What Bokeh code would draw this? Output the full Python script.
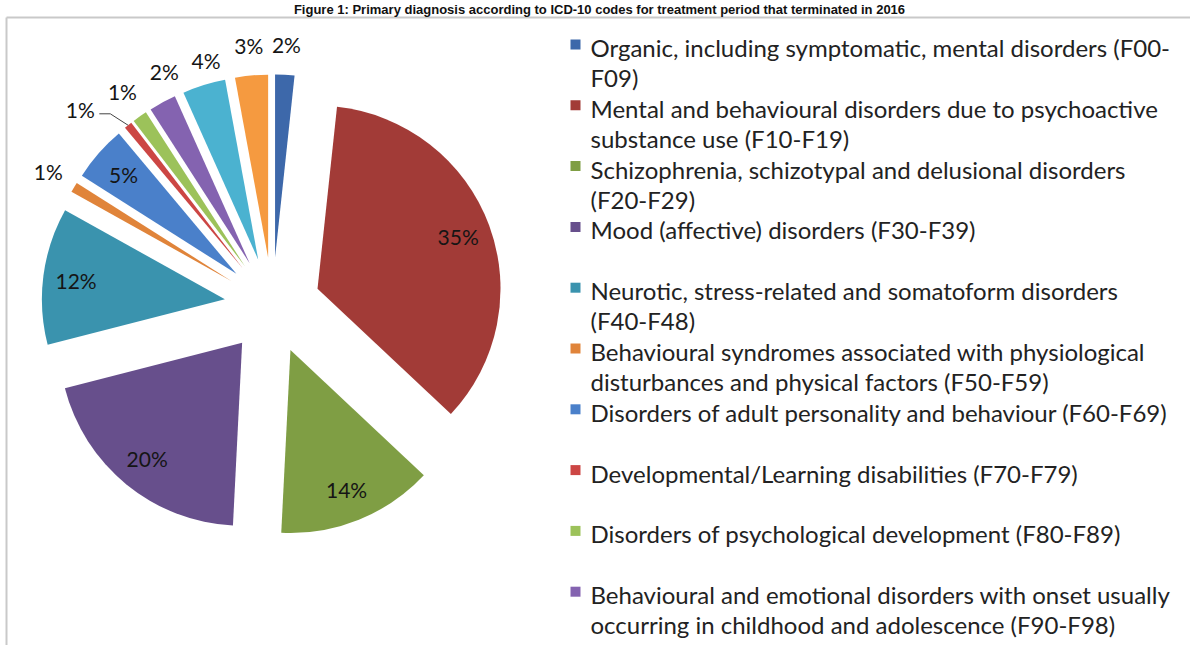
import math
from bokeh.plotting import figure
from bokeh.models import Range1d
from bokeh.core.properties import value
from bokeh.embed import file_html
from bokeh.resources import INLINE

# ---------------- data ----------------
title = ("Figure 1: Primary diagnosis according to ICD-10 codes for treatment "
         "period that terminated in 2016")

categories = [
    "Organic, including symptomatic, mental disorders (F00-\nF09)",
    "Mental and behavioural disorders due to psychoactive\nsubstance use (F10-F19)",
    "Schizophrenia, schizotypal and delusional disorders\n(F20-F29)",
    "Mood (affective) disorders (F30-F39)",
    "Neurotic, stress-related and somatoform disorders\n(F40-F48)",
    "Behavioural syndromes associated with physiological\ndisturbances and physical factors (F50-F59)",
    "Disorders of adult personality and behaviour (F60-F69)",
    "Developmental/Learning disabilities (F70-F79)",
    "Disorders of psychological development (F80-F89)",
    "Behavioural and emotional disorders with onset usually\noccurring in childhood and adolescence (F90-F98)",
    "Unspecified mental disorder (F99)",
    "Other",
]
shares = [1.7, 35.3, 13.8, 20.2, 12.1, 0.9, 4.9, 0.7, 1.3, 2.4, 3.8, 2.9]
legend_count = 10  # entries visible in the legend

colors = ["#3D68AA", "#A23B37", "#7F9E44", "#674F8C", "#3A93AE", "#E0843A",
          "#4A80CA", "#CC4644", "#9CC25A", "#8463B0", "#4BB2D0", "#F59A40"]

# ---------------- layout / style ----------------
W, H = 1190, 645
def Y(y):  # screen y (from top) -> data y
    return H - y

CX, CY = 272, 305      # pie centre (screen px)
R = 183                # radius
EXPLODE = 48           # explosion offset of every slice
INSIDE_F = 0.82        # inside label radius fraction
OUT_D = 30             # outside label distance beyond the rim
label_nudge = {7: (-29, 8), 9: (16, -4), 10: (11, 4)}

p = figure(width=W, height=H, output_backend="svg", toolbar_location=None,
           x_range=Range1d(0, W), y_range=Range1d(0, H), min_border=0)
p.axis.visible = False
p.grid.visible = False
p.outline_line_color = None
p.background_fill_color = "white"

# frame lines
p.line(x=[6, W], y=[Y(17), Y(17)], line_color="#c9c9c9", line_width=2)
p.line(x=[6, 6], y=[Y(17), Y(H)], line_color="#c9c9c9", line_width=2)

# title
p.text(x=[599], y=[Y(1)], text=[title], text_font=value("Liberation Sans"),
       text_font_style="bold", text_font_size="13px", text_color="#111111",
       text_align="center", text_baseline="top")

total = sum(shares)
cum = 0.0
xs, ys, sa, ea = [], [], [], []
lab_x, lab_y, lab_t = [], [], []
leader = None
for i, v in enumerate(shares):
    t1 = cum / total * 360.0
    cum += v
    t2 = cum / total * 360.0
    tm = math.radians((t1 + t2) / 2)
    dx, dy = math.sin(tm), math.cos(tm)          # data-space direction (y up)
    tx, ty = CX + EXPLODE * dx, Y(CY) + EXPLODE * dy
    xs.append(tx); ys.append(ty)
    sa.append(math.radians(90 - t2)); ea.append(math.radians(90 - t1))
    pct = round(v / total * 100)
    if pct >= 5:
        lx, ly = tx + INSIDE_F * R * dx, ty + INSIDE_F * R * dy
    else:
        lx, ly = tx + (R + OUT_D) * dx, ty + (R + OUT_D) * dy
    if i in label_nudge:
        nx, ny = label_nudge[i]
        lx += nx; ly -= ny
    if i == 7:
        rimx, rimy = tx + R * dx, ty + R * dy
        leader = ([lx + 19, lx + 30, rimx], [ly - 4, ly - 4, rimy])
    lab_x.append(lx); lab_y.append(ly); lab_t.append(f"{pct}%")

p.wedge(x=xs, y=ys, radius=R, start_angle=sa, end_angle=ea,
        fill_color=colors, line_color=None)

if leader:
    p.line(x=leader[0], y=leader[1], line_color="#444444", line_width=1)

p.text(x=lab_x, y=lab_y, text=lab_t, text_font=value("Lato"),
       text_font_size="21px", text_color="#151515",
       text_align="center", text_baseline="middle")

# legend
LEG_X, LEG_Y0, LEG_STEP, LINE_H = 575, 47, 60.8, 30
sq_x, sq_y, sq_c = [], [], []
tx_x, tx_y, tx_t = [], [], []
for i in range(legend_count):
    y0 = LEG_Y0 + LEG_STEP * i
    sq_x.append(LEG_X); sq_y.append(Y(y0 - 3)); sq_c.append(colors[i])
    for k, line in enumerate(categories[i].split("\n")):
        tx_x.append(LEG_X + 15); tx_y.append(Y(y0 + LINE_H * k)); tx_t.append(line)

p.scatter(x=sq_x, y=sq_y, marker="square", size=10, fill_color=sq_c, line_color=None)
p.text(x=tx_x, y=tx_y, text=tx_t, text_font=value("Lato"), text_font_size="24px",
       text_color="#222222", text_align="left", text_baseline="middle")

open("out.html", "w").write(file_html(p, INLINE))
